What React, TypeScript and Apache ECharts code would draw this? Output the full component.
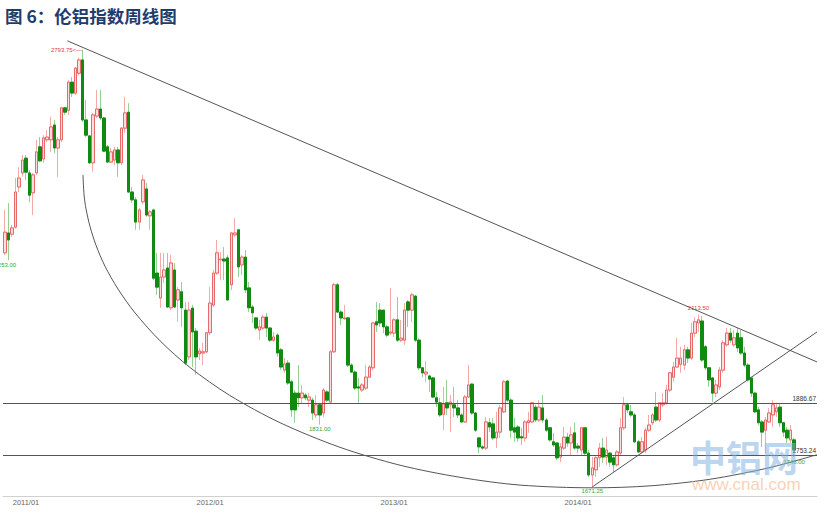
import { useEffect, useRef } from "react";
import * as echarts from "echarts";

const titleText = "图 6：伦铝指数周线图";
const firstWeekUTC = Date.UTC(2010, 10, 26);
const padWeeks = 6;
const yearTicks = ["2011/01", "2012/01", "2013/01", "2014/01"];
const yRange = [1648, 2831];

// weekly candles: [open, close, low, high]
const weeklyOHLC: number[][] = [
  [2272, 2325, 2266, 2382], [2323, 2305, 2253, 2400], [2320, 2336, 2313, 2344], [2338, 2428, 2334, 2464],
  [2441, 2464, 2428, 2492], [2477, 2510, 2467, 2523], [2515, 2479, 2459, 2523], [2477, 2420, 2402, 2485],
  [2426, 2472, 2369, 2477], [2477, 2531, 2472, 2562], [2544, 2508, 2505, 2569], [2513, 2567, 2503, 2574],
  [2562, 2569, 2556, 2587], [2562, 2595, 2531, 2621], [2600, 2541, 2528, 2613], [2541, 2562, 2467, 2569],
  [2562, 2644, 2556, 2646], [2644, 2633, 2626, 2646], [2638, 2710, 2626, 2716], [2710, 2682, 2672, 2723],
  [2682, 2746, 2677, 2749], [2733, 2767, 2728, 2772], [2767, 2613, 2608, 2793.75], [2613, 2574, 2569, 2664],
  [2572, 2503, 2500, 2574], [2503, 2626, 2480, 2631], [2623, 2641, 2618, 2690], [2641, 2618, 2613, 2690],
  [2618, 2533, 2531, 2621], [2544, 2505, 2503, 2549], [2505, 2531, 2503, 2541], [2510, 2536, 2497, 2544],
  [2536, 2503, 2467, 2544], [2503, 2592, 2497, 2595], [2592, 2631, 2580, 2672], [2633, 2428, 2426, 2656],
  [2428, 2408, 2400, 2441], [2408, 2351, 2331, 2415], [2351, 2382, 2331, 2387], [2403, 2459, 2397, 2472],
  [2436, 2369, 2364, 2451], [2367, 2377, 2331, 2382], [2382, 2207, 2202, 2385], [2220, 2184, 2164, 2272],
  [2156, 2210, 2131, 2272], [2210, 2228, 2195, 2272], [2233, 2133, 2131, 2272], [2131, 2246, 2125, 2266],
  [2228, 2133, 2131, 2246], [2151, 2177, 2095, 2184], [2172, 2131, 2082, 2197], [2125, 1989, 1984, 2146],
  [2005, 2125, 1997, 2146], [2130, 2069, 1979, 2138], [2071, 2005, 1959, 2079], [2013, 2020, 1997, 2028],
  [2015, 2018, 1984, 2041], [2018, 2067, 2015, 2069], [2067, 2143, 2061, 2184], [2138, 2220, 2133, 2228],
  [2220, 2272, 2215, 2305], [2254, 2256, 2202, 2274], [2256, 2251, 2202, 2287], [2259, 2151, 2151, 2266],
  [2190, 2323, 2177, 2326], [2318, 2323, 2313, 2361], [2331, 2236, 2210, 2333], [2241, 2261, 2215, 2266],
  [2261, 2177, 2169, 2279], [2182, 2131, 2120, 2197], [2133, 2118, 2092, 2138], [2105, 2079, 2074, 2107],
  [2074, 2082, 2048, 2100], [2079, 2107, 2074, 2113], [2107, 2079, 2056, 2118], [2079, 2048, 2043, 2082],
  [2048, 2056, 2043, 2069], [2061, 2015, 2005, 2066], [2023, 1979, 1971, 2028], [1971, 1987, 1964, 2002],
  [1989, 1938, 1933, 1997], [1941, 1869, 1851, 1946], [1912, 1869, 1836, 1920], [1912, 1900, 1876, 1984],
  [1900, 1912, 1887, 1933], [1907, 1900, 1894, 1912], [1894, 1902, 1876, 1912], [1894, 1861, 1843, 1900],
  [1856, 1882, 1848, 1907], [1882, 1856, 1831, 1887], [1861, 1920, 1851, 1925], [1915, 1894, 1889, 1920],
  [1889, 2018, 1887, 2023], [2018, 2190, 2015, 2195], [2190, 2120, 2118, 2195], [2120, 2105, 2087, 2125],
  [2103, 2105, 2100, 2138], [2105, 1984, 1979, 2107], [1984, 1966, 1964, 1989], [1966, 1925, 1920, 1971],
  [1928, 1925, 1887, 1951], [1920, 1933, 1915, 1938], [1925, 1953, 1920, 1984], [1953, 1979, 1951, 1984],
  [1977, 2092, 1971, 2095], [2095, 2087, 2069, 2146], [2125, 2092, 2082, 2143], [2125, 2082, 2066, 2125],
  [2082, 2061, 2056, 2087], [2066, 2069, 2061, 2182], [2066, 2100, 2056, 2105], [2100, 2048, 2043, 2159],
  [2048, 2053, 2043, 2100], [2048, 2125, 2036, 2143], [2146, 2125, 2082, 2151], [2125, 2164, 2095, 2169],
  [2161, 2048, 2043, 2164], [2048, 1977, 1971, 2053], [1977, 1964, 1953, 1979], [1961, 1966, 1941, 1994],
  [1956, 1948, 1915, 1959], [1951, 1902, 1900, 1953], [1900, 1889, 1876, 1915], [1887, 1856, 1851, 1900],
  [1858, 1884, 1817, 1928], [1887, 1874, 1856, 1946], [1882, 1889, 1812, 1907], [1882, 1874, 1851, 1928],
  [1874, 1856, 1848, 1894], [1856, 1838, 1836, 1861], [1838, 1902, 1836, 1907], [1902, 1933, 1900, 1984],
  [1935, 1861, 1856, 1938], [1861, 1817, 1812, 1864], [1797, 1774, 1758, 1799], [1774, 1771, 1766, 1779],
  [1771, 1838, 1766, 1851], [1836, 1825, 1812, 1848], [1833, 1797, 1792, 1848], [1797, 1812, 1771, 1864],
  [1812, 1874, 1797, 1882], [1864, 1941, 1861, 1946], [1943, 1894, 1889, 1946], [1894, 1817, 1797, 1900],
  [1823, 1812, 1787, 1848], [1825, 1797, 1787, 1830], [1800, 1797, 1779, 1823], [1797, 1838, 1787, 1843],
  [1836, 1841, 1810, 1864], [1838, 1887, 1836, 1889], [1876, 1843, 1838, 1882], [1843, 1876, 1838, 1894],
  [1874, 1843, 1836, 1907], [1843, 1817, 1812, 1848], [1823, 1792, 1787, 1825], [1787, 1779, 1774, 1810],
  [1784, 1746, 1740, 1787], [1748, 1774, 1735, 1784], [1771, 1799, 1766, 1825], [1799, 1784, 1774, 1810],
  [1784, 1805, 1753, 1825], [1810, 1771, 1766, 1836], [1776, 1771, 1758, 1784], [1766, 1823, 1753, 1825],
  [1823, 1758, 1753, 1825], [1758, 1702, 1697, 1766], [1702, 1720, 1671.25, 1748], [1715, 1746, 1697, 1753],
  [1746, 1771, 1723, 1784], [1771, 1748, 1733, 1797], [1748, 1766, 1728, 1800], [1758, 1735, 1723, 1761],
  [1746, 1728, 1710, 1753], [1728, 1761, 1723, 1766], [1758, 1823, 1753, 1848], [1823, 1882, 1817, 1902],
  [1882, 1869, 1861, 1887], [1864, 1856, 1851, 1882], [1856, 1787, 1784, 1861], [1787, 1761, 1758, 1792],
  [1761, 1787, 1758, 1799], [1766, 1817, 1758, 1823], [1817, 1830, 1812, 1856], [1836, 1856, 1830, 1861],
  [1876, 1843, 1838, 1915], [1843, 1887, 1838, 1889], [1882, 1887, 1876, 1912], [1887, 1920, 1882, 1933],
  [1920, 1964, 1915, 1966], [1953, 1979, 1941, 1992], [1979, 2002, 1977, 2054], [1986, 2002, 1964, 2031],
  [1984, 2023, 1971, 2036], [2023, 2002, 1989, 2031], [2002, 2066, 1997, 2092], [2066, 2095, 2056, 2107],
  [2092, 2100, 2069, 2113.5], [2097, 1997, 1992, 2110], [2031, 1977, 1971, 2036], [1977, 1946, 1928, 1979],
  [1951, 1912, 1889, 1953], [1912, 1933, 1902, 1946], [1928, 1971, 1920, 1979], [1971, 2041, 1964, 2048],
  [2036, 2066, 2031, 2079], [2066, 2048, 2041, 2079], [2036, 2054, 2031, 2074], [2066, 2028, 2018, 2079],
  [2054, 2015, 2010, 2074], [2015, 1984, 1979, 2031], [1984, 1946, 1941, 1989], [1951, 1912, 1902, 1953],
  [1912, 1864, 1861, 1915], [1869, 1836, 1830, 1876], [1838, 1812, 1774, 1843], [1817, 1843, 1758, 1851],
  [1838, 1861, 1836, 1874], [1856, 1882, 1825, 1894], [1864, 1874, 1851, 1887], [1876, 1836, 1825, 1887],
  [1836, 1812, 1800, 1838], [1817, 1797, 1784, 1825], [1792, 1817, 1784, 1830], [1792, 1766, 1748, 1797],
];

const levelLines = [1886.67, 1753.24];
// [week index, price]
const highMarks = [[22, 2793.75], [196, 2113.5]];
const lowMarks = [[1, 2253], [89, 1831], [166, 1671.25], [223, 1748]];
// hand-drawn annotation lines: [week position, price]
const resistanceLine = [[17.7, 2816], [229.5, 1992]];
const supportLine = [[166, 1671.25], [229.5, 2069]];
const arcLine = [
  [22.1, 2472], [22.4, 2421], [22.95, 2385], [24.1, 2339], [25.8, 2291], [28.3, 2238],
  [32.0, 2179], [36.8, 2118], [43.9, 2046], [52.3, 1978], [63.6, 1906], [77.8, 1836],
  [94.7, 1773], [111.7, 1727], [128.6, 1696], [145.6, 1676], [166.4, 1669], [182.3, 1674],
  [199.3, 1691], [216.2, 1721], [229.5, 1754],
];

const pad = (n: number) => String(n).padStart(2, "0");

export default function App() {
  const ref = useRef<HTMLDivElement>(null);
  useEffect(() => {
    document.body.style.margin = "0";
    if (!ref.current) return;
    const chart = echarts.init(ref.current, undefined, { renderer: "svg" });
    const total = weeklyOHLC.length + padWeeks;
    const categories = Array.from({ length: total }, (_, i) => {
      const d = new Date(firstWeekUTC + i * 7 * 86400000);
      return `${d.getUTCFullYear()}/${pad(d.getUTCMonth() + 1)}/${pad(d.getUTCDate())}`;
    });
    const bodies = weeklyOHLC.map(([o, c]) => [o, c, Math.min(o, c), Math.max(o, c)]);
    const fmt = (v: number) => v.toFixed(2);
    const smallFont = "Arial, 'Liberation Sans', sans-serif";

    const markPointData = [
      ...highMarks.map(([i, v], k) => ({
        coord: [i, v],
        value: v,
        label: {
          position: k === 0 ? "left" : "top",
          distance: k === 0 ? 0 : 3,
          color: "#e23b3b",
          formatter: k === 0 ? `${fmt(v)}<—` : fmt(v),
        },
      })),
      ...lowMarks.map(([i, v], k) => ({
        coord: [i, v],
        value: v,
        label: {
          position: "bottom",
          distance: 1,
          offset: k === 0 ? [-3, 0] : [0, 0],
          color: "#36a336",
          formatter: fmt(v),
        },
      })),
    ];

    chart.setOption({
      animation: false,
      backgroundColor: "#ffffff",
      title: {
        text: titleText,
        left: 0,
        top: 2,
        textStyle: {
          fontSize: 17.5,
          fontWeight: "bold",
          color: "#1e3c6c",
          fontFamily: "'Noto Sans CJK SC', sans-serif",
        },
      },
      grid: { left: 3, right: 8, top: 35, bottom: 18 },
      xAxis: [
        {
          type: "category",
          data: categories,
          boundaryGap: true,
          axisLine: { lineStyle: { color: "#d0d0d0", width: 1 } },
          axisTick: { show: false },
          splitLine: { show: false },
          axisLabel: {
            interval: (_i: number, v: string) =>
              yearTicks.includes(v.slice(0, 7)) && Number(v.slice(8)) <= 7,
            formatter: (v: string) => v.slice(0, 7),
            color: "#666666",
            fontSize: 7.5,
            margin: 2,
            fontFamily: smallFont,
          },
        },
        { type: "value", min: -0.5, max: total - 0.5, show: false },
      ],
      yAxis: { type: "value", min: yRange[0], max: yRange[1], show: false, scale: true },
      series: [
        {
          type: "candlestick",
          name: "wick",
          data: weeklyOHLC,
          barWidth: 3,
          silent: true,
          itemStyle: {
            color: "#f5a9a9",
            borderColor: "#f5a9a9",
            color0: "#93d293",
            borderColor0: "#93d293",
            borderWidth: 1,
          },
        },
        {
          type: "candlestick",
          name: "body",
          data: bodies,
          barWidth: 3,
          silent: true,
          itemStyle: {
            color: "#fcdede",
            borderColor: "#e66a6a",
            color0: "#118a11",
            borderColor0: "#118a11",
            borderWidth: 1,
          },
          markLine: {
            silent: true,
            symbol: "none",
            lineStyle: { color: "#555555", width: 1, type: "solid" },
            label: {
              position: "insideEndTop",
              distance: [1, 1],
              formatter: (p: any) => fmt(p.value),
              color: "#333333",
              fontSize: 6.5,
              fontFamily: smallFont,
            },
            data: levelLines.map((v) => ({ yAxis: v })),
          },
          markPoint: {
            silent: true,
            symbol: "rect",
            symbolSize: 1,
            itemStyle: { color: "rgba(0,0,0,0)" },
            label: { show: true, fontSize: 6, fontFamily: smallFont },
            data: markPointData,
          },
        },
        {
          type: "line",
          xAxisIndex: 1,
          data: resistanceLine,
          symbol: "none",
          silent: true,
          lineStyle: { color: "#555555", width: 1 },
        },
        {
          type: "line",
          xAxisIndex: 1,
          data: supportLine,
          symbol: "none",
          silent: true,
          lineStyle: { color: "#555555", width: 1 },
        },
        {
          type: "line",
          xAxisIndex: 1,
          data: arcLine,
          symbol: "none",
          smooth: 0.3,
          silent: true,
          lineStyle: { color: "#555555", width: 1 },
        },
      ],
      graphic: [
        {
          type: "text",
          left: 690,
          top: 438,
          z: 100,
          silent: true,
          style: {
            text: "中铝网",
            fontSize: 36,
            fontWeight: "bold",
            fontFamily: "'Noto Sans CJK SC', sans-serif",
            fill: "rgba(130,178,225,0.55)",
          },
        },
        {
          type: "text",
          left: 692,
          top: 476,
          z: 100,
          silent: true,
          style: {
            text: "www.cnal.com",
            fontSize: 17,
            fontFamily: "Arial, 'Liberation Sans', sans-serif",
            fill: "rgba(245,190,150,0.7)",
          },
        },
      ],
    });
    return () => chart.dispose();
  }, []);
  return <div ref={ref} style={{ width: 825, height: 514 }} />;
}
